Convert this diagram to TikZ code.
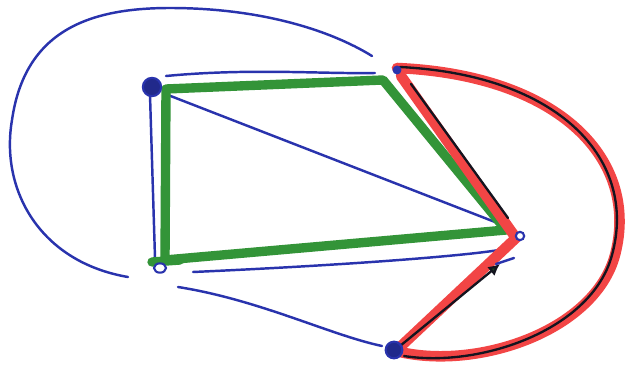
\documentclass[tikz,border=0pt]{standalone}
\usepackage{tikz}
\usetikzlibrary{arrows.meta,calc,shapes.geometric}
\definecolor{penblue}{rgb}{0.16,0.2,0.68}
\definecolor{pengreen}{rgb}{0.2,0.58,0.22}
\definecolor{penred}{rgb}{0.95,0.27,0.27}
\definecolor{penblack}{rgb}{0.08,0.08,0.12}
\tikzset{
  vtx/.style={
    circle,
    draw=penblue,
    line width=1.8pt,
    inner sep=0pt
  },
  bigvtx/.style={
    vtx,
    fill=penblue!80!black,
    minimum size=.55cm
  },
  smallvtx/.style={
    vtx,
    fill=penblue,
    minimum size=.2cm
  },
  openvtx/.style={
    vtx,
    fill=white,
    minimum size=.28cm
  },
  blueline/.style={
    draw=penblue,
    line width=2.1pt,
    line cap=round
  },
  greenline/.style={
    draw=pengreen,
    line width=8pt,
    line cap=round,
    line join=round
  },
  redline/.style={
    draw=penred,
    line width=9pt,
    line cap=round,
    line join=round
  },
  blackline/.style={
    draw=penblack,
    line width=2pt,
    line cap=round
  }
}

\begin{document}
\begin{tikzpicture}[x=0.03cm,y=-0.03cm]
\useasboundingbox (0,0) rectangle (626,370);
% corners of the drawing
\coordinate (A) at (152,87);
\coordinate (B) at (397,70);
\coordinate (C) at (520,236);
\coordinate (D) at (160,268);
\coordinate (E) at (394,350);

% blue pen
\draw[blueline] ($(D)+(-32,9)$) .. controls (40,262) and (0,190) .. (12,120)
  .. controls (25,30) and (90,8) .. (170,8)
  .. controls (260,8) and (330,30) .. ($(B)+(-25,-14)$);
\draw[blueline] ($(A)+(14,-11)$) .. controls (250,68) and (320,74) .. ($(B)+(-22,3)$);
\draw[blueline] ($(A)+(-2,8)$) -- ($(D)+(-5,-10)$);
\draw[blueline] ($(A)+(16,8)$) -- ($(C)+(-25,-14)$);
\draw[blueline] ($(D)+(33,4)$) .. controls (350,265) and (480,255) .. ($(C)+(-10,12)$);
\draw[blueline] ($(D)+(18,19)$) .. controls (260,300) and (330,335) .. ($(E)+(-12,-4)$);

% green pen
\draw[greenline] ($(A)+(14,2)$) -- ($(B)+(-14,10)$) -- ($(C)+(-14,-6)$)
  -- ($(D)+(5,-8)$) -- cycle;
\draw[greenline] ($(D)+(-8,-6)$) -- ($(D)+(20,-8)$);

% red pen
\draw[redline] ($(B)+(0,-2)$) .. controls (560,75) and (640,160) .. (615,255)
  .. controls (595,330) and (480,370) .. ($(E)+(6,2)$);
\draw[redline] ($(B)+(4,6)$) -- ($(C)+(-4,2)$) -- ($(E)+(5,-2)$);

% black pen
\draw[blackline] ($(B)+(3,-3)$) .. controls (560,75) and (638,160) .. (612,255)
  .. controls (592,330) and (480,368) .. ($(E)+(10,6)$);
\draw[blackline] ($(B)+(14,14)$) -- ($(C)+(-12,-18)$);
\draw[blackline,-{Latex[length=3.5mm,width=3.5mm,fill=pengreen!50!black]}] ($(E)+(6,-4)$) -- ($(C)+(-20,28)$);
\draw[blueline] ($(C)+(-24,28)$) -- ($(C)+(-6,22)$);

% vertices
\node[bigvtx] (a) at (A) {};
\node[smallvtx] (b) at (B) {};
\node[openvtx,minimum size=.25cm] (c) at (C) {};
\node[openvtx,ellipse,minimum width=.36cm,minimum height=.28cm] (d) at (D) {};
\node[bigvtx,minimum size=.5cm] (e) at (E) {};
\end{tikzpicture}
\end{document}
